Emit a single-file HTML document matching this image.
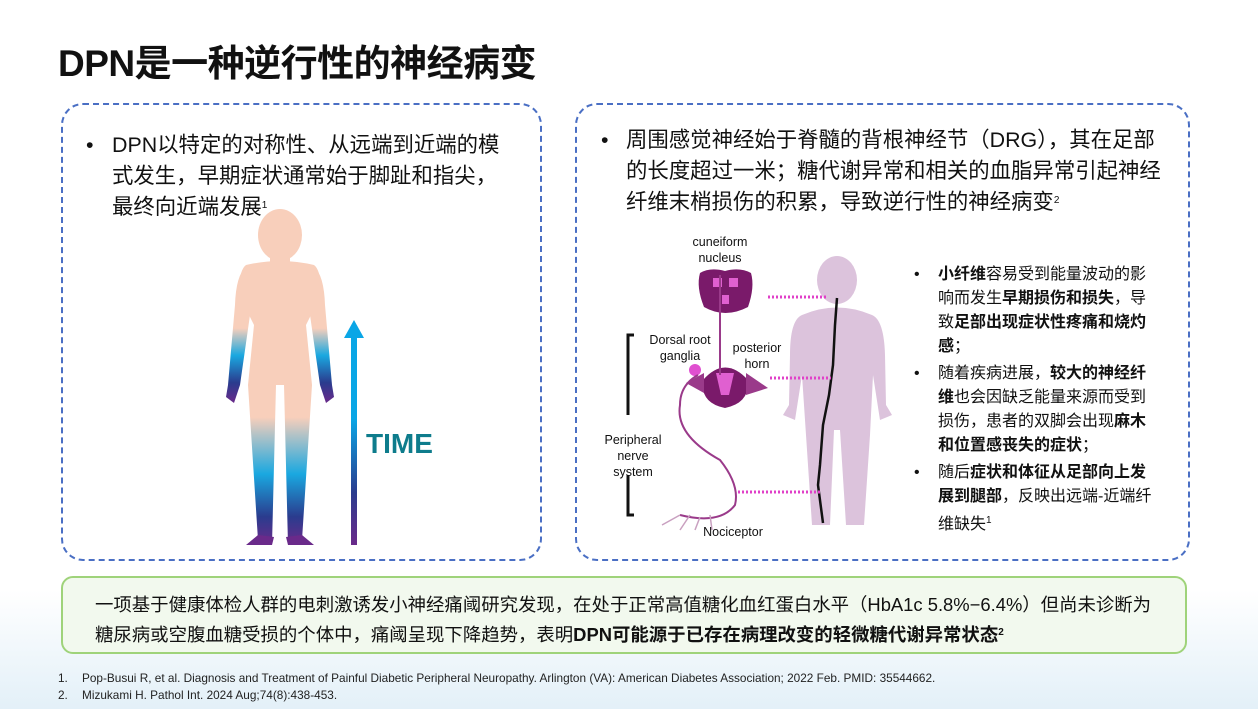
<!DOCTYPE html>
<html><head><meta charset="utf-8">
<style>
body{margin:0;width:1258px;height:709px;position:relative;overflow:hidden;background:#fff;font-family:"Liberation Sans","Noto Sans CJK SC",sans-serif;color:#111}
.bg{position:absolute;left:0;top:590px;width:1258px;height:119px;background:linear-gradient(#fff,#e3f0f8)}
.abs{position:absolute}
.box{position:absolute;border:2px dashed #4a6fc4;border-radius:22px;background:#fff}
h1{position:absolute;left:58px;top:33px;margin:0;font-size:37px;font-weight:bold;letter-spacing:-0.5px}
.t20{font-size:21.4px;line-height:30.5px}
.t16{font-size:16px;line-height:24px}
b{font-weight:bold}
sup{font-size:10px;vertical-align:6px}
</style></head><body>
<div class="bg"></div>
<h1>DPN是一种逆行性的神经病变</h1>
<div class="box" style="left:61px;top:103px;width:477px;height:454px"></div>
<div class="box" style="left:575px;top:103px;width:611px;height:454px"></div>

<div class="abs t20" style="left:86px;top:130px">•</div>
<div class="abs t20" style="left:112px;top:130px;width:420px">DPN以特定的对称性、从远端到近端的模<br>式发生，早期症状通常始于脚趾和指尖，<br>最终向近端发展<sup>1</sup></div>

<div class="abs t20" style="left:601px;top:125px">•</div>
<div class="abs t20" style="left:626px;top:125px;width:560px">周围感觉神经始于脊髓的背根神经节（DRG），其在足部<br>的长度超过一米；糖代谢异常和相关的血脂异常引起神经<br>纤维末梢损伤的积累，导致逆行性的神经病变<sup>2</sup></div>

<!-- woman -->
<svg class="abs" style="left:200px;top:205px" width="260" height="345" viewBox="0 0 260 345">
<defs>
<linearGradient id="arm" x1="0" y1="0" x2="0" y2="1">
<stop offset="0" stop-color="#f8cfbb"/><stop offset="0.45" stop-color="#f8cfbb"/><stop offset="0.65" stop-color="#1aa8e0"/><stop offset="0.85" stop-color="#2a3c8e"/><stop offset="1" stop-color="#6a2a8a"/></linearGradient>
<linearGradient id="leg" x1="0" y1="0" x2="0" y2="1">
<stop offset="0" stop-color="#f8cfbb"/><stop offset="0.55" stop-color="#f8cfbb"/><stop offset="0.75" stop-color="#1aa8e0"/><stop offset="0.9" stop-color="#2a3c8e"/><stop offset="1" stop-color="#6a2a8a"/></linearGradient>
<linearGradient id="ar" x1="0" y1="1" x2="0" y2="0">
<stop offset="0" stop-color="#6a2a8a"/><stop offset="0.25" stop-color="#2a3c8e"/><stop offset="0.6" stop-color="#0aa6e6"/><stop offset="1" stop-color="#0aa6e6"/></linearGradient>
</defs>
<ellipse cx="80" cy="30" rx="22" ry="26" fill="#f8cfbb"/>
<rect x="70" y="48" width="20" height="16" fill="#f8cfbb"/>
<path d="M46 60 Q80 52 114 60 Q122 66 120 92 L106 120 L112 180 L102 335 L88 340 L84 180 L76 180 L72 340 L58 335 L48 180 L54 120 L40 92 Q38 66 46 60Z" fill="url(#leg)"/>
<path d="M46 62 Q36 70 35 100 L28 180 L26 192 L34 198 L40 180 L50 110Z" fill="url(#arm)"/>
<path d="M114 62 Q124 70 125 100 L132 180 L134 192 L126 198 L120 180 L110 110Z" fill="url(#arm)"/>
<path d="M58 330 L74 332 L72 340 L46 340Z M86 332 L102 330 L114 340 L88 340Z" fill="#6a2a8a"/>
<rect x="151" y="130" width="6" height="210" fill="url(#ar)"/>
<polygon points="154,115 144,133 164,133" fill="#0aa6e6"/>
<text x="166" y="248" font-family="Liberation Sans" font-weight="bold" font-size="28" fill="#0e7c8c">TIME</text>
</svg>

<!-- diagram -->
<svg class="abs" style="left:580px;top:225px" width="330" height="325" viewBox="0 0 330 325">
<g fill="#dcc3dc">
<ellipse cx="257" cy="55" rx="20" ry="24"/>
<path d="M222 90 Q257 75 292 90 Q304 95 305 130 L306 180 L312 190 L300 195 L293 150 L290 210 L284 300 L266 300 L260 205 L254 205 L250 300 L232 300 L226 210 L222 150 L215 195 L203 190 L209 180 L210 130 Q210 95 222 90Z"/>
</g>
<path d="M257 73 L255 100 L253 140 L249 170 L243 200 L240 240 L238 260 L243 298" stroke="#111" stroke-width="2.5" fill="none"/>
<g stroke="#e040c8" stroke-width="3" stroke-dasharray="2,2">
<line x1="188" y1="72" x2="248" y2="72"/>
<line x1="190" y1="153" x2="251" y2="153"/>
<line x1="158" y1="267" x2="242" y2="267"/>
</g>
<path d="M120 48 Q116 62 124 82 Q145 94 168 82 Q175 62 171 48 Q160 42 145 46 Q130 42 120 48Z" fill="#7a1a6a"/>
<path d="M133 53 h9 v9 h-9z M149 53 h9 v9 h-9z M142 70 h7 v9 h-7z" fill="#e060d0"/>
<path d="M123 155 Q145 130 168 155 Q170 178 145 183 Q120 178 123 155Z" fill="#7a1a6a"/>
<path d="M136 148 L154 148 L149 170 L141 170Z" fill="#e060d0"/>
<path d="M106 158 L124 148 L124 168Z M166 148 L188 163 L166 170Z" fill="#9a3a8a"/>
<circle cx="115" cy="145" r="6" fill="#e050d0"/>
<path d="M140 50 L140 150 M118 150 Q100 160 100 180 Q95 210 140 235 Q160 260 155 280 Q140 300 100 290" stroke="#9a3a8a" stroke-width="2" fill="none"/>
<path d="M100 290 L82 300 M110 290 L100 305 M120 292 L115 305 M130 290 L132 305" stroke="#c9a0c0" stroke-width="1.5"/>
<path d="M54 110 L48 110 L48 290 L54 290" stroke="#111" stroke-width="3" fill="none"/>
<rect x="40" y="190" width="20" height="60" fill="#fff"/>
<g font-family="Liberation Sans" font-size="12.5" fill="#111" text-anchor="middle">
<text x="140" y="21">cuneiform</text><text x="140" y="37">nucleus</text>
<text x="100" y="119">Dorsal root</text><text x="100" y="135">ganglia</text>
<text x="177" y="127">posterior</text><text x="177" y="143">horn</text>
<text x="53" y="219">Peripheral</text><text x="53" y="235">nerve</text><text x="53" y="251">system</text>
<text x="153" y="311">Nociceptor</text>
</g>
</svg>

<div class="abs t16" style="left:914px;top:263px;width:245px">
<div style="position:relative;padding-left:24px"><span style="position:absolute;left:0">•</span><b>小纤维</b>容易受到能量波动的影<br>响而发生<b>早期损伤和损失</b>，导<br>致<b>足部出现症状性疼痛和烧灼<br>感</b>；</div>
<div style="position:relative;padding-left:24px;margin-top:3px"><span style="position:absolute;left:0">•</span>随着疾病进展，<b>较大的神经纤<br>维</b>也会因缺乏能量来源而受到<br>损伤，患者的双脚会出现<b>麻木<br>和位置感丧失的症状</b>；</div>
<div style="position:relative;padding-left:24px;margin-top:3px"><span style="position:absolute;left:0">•</span>随后<b>症状和体征从足部向上发<br>展到腿部</b>，反映出远端-近端纤<br>维缺失<sup>1</sup></div>
</div>

<div class="abs" style="left:61px;top:576px;width:1122px;height:74px;border:2px solid #9fd37a;border-radius:12px;background:#f2f9ee"></div>
<div class="abs" style="left:95px;top:591px;font-size:18.4px;line-height:28px;width:1085px;white-space:nowrap">一项基于健康体检人群的电刺激诱发小神经痛阈研究发现，在处于正常高值糖化血红蛋白水平（HbA1c 5.8%−6.4%）但尚未诊断为<br>糖尿病或空腹血糖受损的个体中，痛阈呈现下降趋势，表明<b>DPN可能源于已存在病理改变的轻微糖代谢异常状态<sup>2</sup></b></div>

<div class="abs" style="left:58px;top:670px;font-size:11.8px;line-height:17px;color:#222;white-space:nowrap">
<div><span style="display:inline-block;width:24px">1.</span>Pop-Busui R, et al. Diagnosis and Treatment of Painful Diabetic Peripheral Neuropathy. Arlington (VA): American Diabetes Association; 2022 Feb. PMID: 35544662.</div>
<div><span style="display:inline-block;width:24px">2.</span>Mizukami H. Pathol Int. 2024 Aug;74(8):438-453.</div>
</div>
</body></html>
